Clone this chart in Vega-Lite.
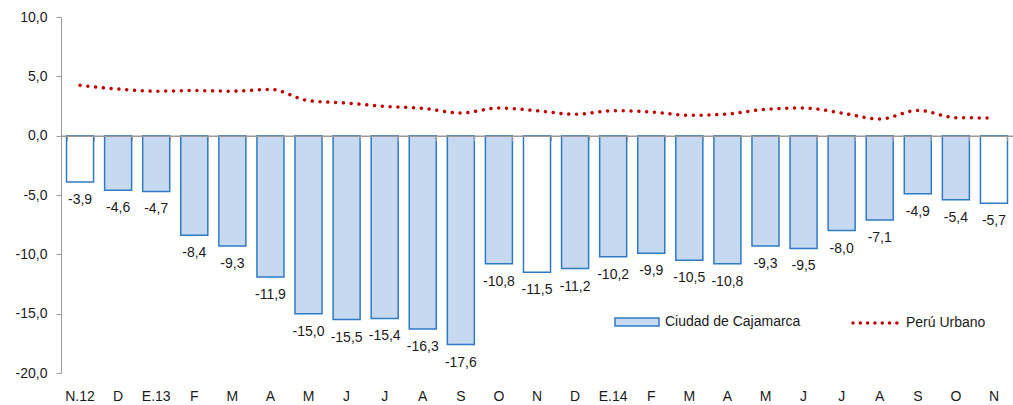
{
  "$schema": "https://vega.github.io/schema/vega-lite/v6.json",
  "width": 952,
  "height": 356,
  "autosize": {"type": "none"},
  "padding": {"left": 61, "top": 17, "right": 0, "bottom": 32},
  "background": "#ffffff",
  "config": {
    "view": {"stroke": null},
    "font": "Liberation Sans",
    "axis": {"labelFont": "Liberation Sans", "labelFontSize": 14, "labelColor": "#1a1a1a", "grid": false, "domainColor": "#9a9a9a", "tickColor": "#9a9a9a"},
    "legend": {"labelFont": "Liberation Sans", "labelFontSize": 14, "labelColor": "#1a1a1a", "padding": 0}
  },
  "data": {
    "values": [
      {"i": 0, "mes": "N.12", "cajamarca": -3.9, "peru": 4.24, "nov": true},
      {"i": 1, "mes": "D", "cajamarca": -4.6, "peru": 3.93, "nov": false},
      {"i": 2, "mes": "E.13", "cajamarca": -4.7, "peru": 3.75, "nov": false},
      {"i": 3, "mes": "F", "cajamarca": -8.4, "peru": 3.8, "nov": false},
      {"i": 4, "mes": "M", "cajamarca": -9.3, "peru": 3.75, "nov": false},
      {"i": 5, "mes": "A", "cajamarca": -11.9, "peru": 3.9, "nov": false},
      {"i": 6, "mes": "M", "cajamarca": -15.0, "peru": 2.95, "nov": false},
      {"i": 7, "mes": "J", "cajamarca": -15.5, "peru": 2.75, "nov": false},
      {"i": 8, "mes": "J", "cajamarca": -15.4, "peru": 2.47, "nov": false},
      {"i": 9, "mes": "A", "cajamarca": -16.3, "peru": 2.3, "nov": false},
      {"i": 10, "mes": "S", "cajamarca": -17.6, "peru": 1.91, "nov": false},
      {"i": 11, "mes": "O", "cajamarca": -10.8, "peru": 2.33, "nov": false},
      {"i": 12, "mes": "N", "cajamarca": -11.5, "peru": 2.1, "nov": true},
      {"i": 13, "mes": "D", "cajamarca": -11.2, "peru": 1.8, "nov": false},
      {"i": 14, "mes": "E.14", "cajamarca": -10.2, "peru": 2.1, "nov": false},
      {"i": 15, "mes": "F", "cajamarca": -9.9, "peru": 2.0, "nov": false},
      {"i": 16, "mes": "M", "cajamarca": -10.5, "peru": 1.72, "nov": false},
      {"i": 17, "mes": "A", "cajamarca": -10.8, "peru": 1.83, "nov": false},
      {"i": 18, "mes": "M", "cajamarca": -9.3, "peru": 2.22, "nov": false},
      {"i": 19, "mes": "J", "cajamarca": -9.5, "peru": 2.33, "nov": false},
      {"i": 20, "mes": "J", "cajamarca": -8.0, "peru": 1.91, "nov": false},
      {"i": 21, "mes": "A", "cajamarca": -7.1, "peru": 1.4, "nov": false},
      {"i": 22, "mes": "S", "cajamarca": -4.9, "peru": 2.13, "nov": false},
      {"i": 23, "mes": "O", "cajamarca": -5.4, "peru": 1.52, "nov": false},
      {"i": 24, "mes": "N", "cajamarca": -5.7, "peru": 1.49, "nov": true}
    ]
  },
  "resolve": {"axis": {"x": "independent"}},
  "layer": [
    {
      "mark": {"type": "bar", "stroke": "#2E7BC4", "strokeWidth": 1.5},
      "encoding": {
        "x": {
          "field": "i", "type": "ordinal",
          "scale": {"paddingInner": 0.29, "paddingOuter": 0.145},
          "axis": {
            "orient": "bottom", "title": null, "ticks": false, "domain": false, "labelAngle": 0, "labelPadding": 16,
            "labelExpr": "['N.12','D','E.13','F','M','A','M','J','J','A','S','O','N','D','E.14','F','M','A','M','J','J','A','S','O','N'][datum.value]"
          }
        },
        "y": {
          "field": "cajamarca", "type": "quantitative",
          "scale": {"domain": [-20, 10], "nice": false, "zero": false},
          "axis": {"title": null, "values": [-20, -15, -10, -5, 0, 5, 10], "tickSize": 5, "labelPadding": 9, "labelExpr": "replace(replace(format(datum.value, '.1f'), '.', ','), '\u2212', '-')"}
        },
        "fill": {
          "condition": {"test": "datum.nov", "value": "#ffffff"},
          "datum": "Ciudad de Cajamarca", "type": "nominal",
          "scale": {"domain": ["Ciudad de Cajamarca"], "range": ["#C6D9F1"]},
          "legend": {
            "title": null, "orient": "none", "legendX": 553, "legendY": 282,
            "symbolType": "M-1,-0.18H1V0.18H-1Z", "symbolSize": 1936,
            "symbolStrokeColor": "#2E7BC4", "symbolStrokeWidth": 1.5, "symbolFillColor": "#C6D9F1", "labelOffset": 5
          }
        }
      }
    },
    {
      "mark": {"type": "text", "baseline": "middle", "align": "center", "dy": 18, "fontSize": 14, "font": "Liberation Sans", "color": "#1a1a1a",
        "text": {"expr": "replace(replace(format(datum.cajamarca, '.1f'), '.', ','), '\u2212', '-')"}},
      "encoding": {
        "x": {"field": "i", "type": "ordinal", "axis": null},
        "y": {"field": "cajamarca", "type": "quantitative"}
      }
    },
    {
      "mark": {"type": "line", "interpolate": "monotone", "strokeWidth": 3.5, "strokeCap": "round", "strokeDash": [0.01, 7.8]},
      "encoding": {
        "x": {
          "field": "i", "type": "ordinal",
          "axis": {"orient": "bottom", "offset": -237.3, "title": null, "labels": false, "ticks": true, "tickBand": "extent", "tickSize": 5, "domain": true, "domainWidth": 1.5, "zindex": 1}
        },
        "y": {"field": "peru", "type": "quantitative"},
        "stroke": {
          "datum": "Perú Urbano", "type": "nominal",
          "scale": {"domain": ["Perú Urbano"], "range": ["#C00000"]},
          "legend": {
            "title": null, "orient": "none", "legendX": 790, "legendY": 282,
            "symbolType": "stroke", "symbolSize": 1936, "symbolStrokeWidth": 3.5, "symbolDash": [0.01, 7.3], "labelOffset": 7,
            "encode": {"symbols": {"update": {"strokeCap": {"value": "round"}}}}
          }
        }
      }
    }
  ]
}
